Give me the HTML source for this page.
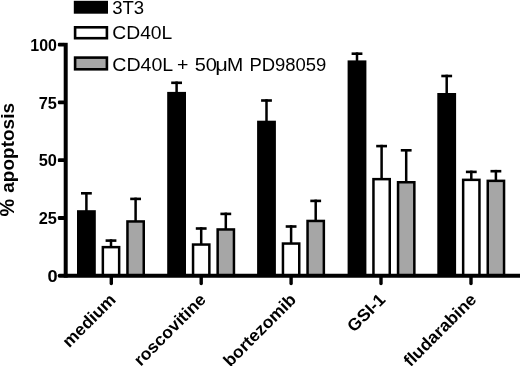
<!DOCTYPE html>
<html><head><meta charset="utf-8"><title>apoptosis chart</title>
<style>
html,body{margin:0;padding:0;background:#fff;}
body{width:520px;height:366px;overflow:hidden;}
svg{display:block;}
text{font-family:"Liberation Sans",Arial,Helvetica,sans-serif;fill:#000;}
.b{font-weight:bold;}
</style></head><body>
<svg width="520" height="366" viewBox="0 0 520 366">
<rect width="520" height="366" fill="#fff"/>

<rect x="73.8" y="0.8" width="34.2" height="12.9" fill="#000"/>
<rect x="75.1" y="27.3" width="31.8" height="10.9" fill="#fff" stroke="#000" stroke-width="2.6"/>
<rect x="75.1" y="57.6" width="31.8" height="11.7" fill="#a6a6a6" stroke="#000" stroke-width="2.6"/>
<text x="112.2" y="14.1" font-size="18" textLength="32" lengthAdjust="spacingAndGlyphs">3T3</text>
<text x="112.3" y="39.1" font-size="18" textLength="60" lengthAdjust="spacingAndGlyphs">CD40L</text>
<text y="70.7" font-size="18"><tspan x="112.3" textLength="60.2" lengthAdjust="spacingAndGlyphs">CD40L</tspan> <tspan x="176.9" textLength="11.4" lengthAdjust="spacingAndGlyphs">+</tspan> <tspan x="194.7" textLength="22.2" lengthAdjust="spacingAndGlyphs">50</tspan><tspan x="215.2" textLength="12.6" lengthAdjust="spacingAndGlyphs">μ</tspan><tspan x="227" textLength="16.2" lengthAdjust="spacingAndGlyphs">M</tspan> <tspan x="249.4" textLength="77" lengthAdjust="spacingAndGlyphs">PD98059</tspan></text>
<rect x="85.15" y="192.00" width="2.5" height="20.20" fill="#000"/>
<rect x="81.00" y="192.00" width="10.8" height="2.6" fill="#000"/>
<rect x="77.00" y="210.20" width="18.8" height="65.60" fill="#000"/>
<rect x="109.75" y="239.30" width="2.5" height="8.60" fill="#000"/>
<rect x="105.60" y="239.30" width="10.8" height="2.6" fill="#000"/>
<rect x="102.85" y="247.15" width="16.30" height="28.65" fill="#fff" stroke="#000" stroke-width="2.5"/>
<rect x="134.35" y="197.60" width="2.5" height="24.60" fill="#000"/>
<rect x="130.20" y="197.60" width="10.8" height="2.6" fill="#000"/>
<rect x="127.45" y="221.45" width="16.30" height="54.35" fill="#a6a6a6" stroke="#000" stroke-width="2.5"/>
<rect x="175.35" y="81.50" width="2.5" height="12.40" fill="#000"/>
<rect x="171.20" y="81.50" width="10.8" height="2.6" fill="#000"/>
<rect x="167.20" y="91.90" width="18.8" height="183.90" fill="#000"/>
<rect x="199.95" y="227.20" width="2.5" height="18.10" fill="#000"/>
<rect x="195.80" y="227.20" width="10.8" height="2.6" fill="#000"/>
<rect x="193.05" y="244.55" width="16.30" height="31.25" fill="#fff" stroke="#000" stroke-width="2.5"/>
<rect x="224.55" y="212.60" width="2.5" height="17.60" fill="#000"/>
<rect x="220.40" y="212.60" width="10.8" height="2.6" fill="#000"/>
<rect x="217.65" y="229.45" width="16.30" height="46.35" fill="#a6a6a6" stroke="#000" stroke-width="2.5"/>
<rect x="265.25" y="99.20" width="2.5" height="23.50" fill="#000"/>
<rect x="261.10" y="99.20" width="10.8" height="2.6" fill="#000"/>
<rect x="257.10" y="120.70" width="18.8" height="155.10" fill="#000"/>
<rect x="289.85" y="225.20" width="2.5" height="19.10" fill="#000"/>
<rect x="285.70" y="225.20" width="10.8" height="2.6" fill="#000"/>
<rect x="282.95" y="243.55" width="16.30" height="32.25" fill="#fff" stroke="#000" stroke-width="2.5"/>
<rect x="314.45" y="199.60" width="2.5" height="22.10" fill="#000"/>
<rect x="310.30" y="199.60" width="10.8" height="2.6" fill="#000"/>
<rect x="307.55" y="220.95" width="16.30" height="54.85" fill="#a6a6a6" stroke="#000" stroke-width="2.5"/>
<rect x="355.75" y="52.40" width="2.5" height="10.00" fill="#000"/>
<rect x="351.60" y="52.40" width="10.8" height="2.6" fill="#000"/>
<rect x="347.60" y="60.40" width="18.8" height="215.40" fill="#000"/>
<rect x="380.35" y="144.80" width="2.5" height="35.10" fill="#000"/>
<rect x="376.20" y="144.80" width="10.8" height="2.6" fill="#000"/>
<rect x="373.45" y="179.15" width="16.30" height="96.65" fill="#fff" stroke="#000" stroke-width="2.5"/>
<rect x="404.95" y="149.00" width="2.5" height="34.00" fill="#000"/>
<rect x="400.80" y="149.00" width="10.8" height="2.6" fill="#000"/>
<rect x="398.05" y="182.25" width="16.30" height="93.55" fill="#a6a6a6" stroke="#000" stroke-width="2.5"/>
<rect x="445.45" y="74.70" width="2.5" height="20.30" fill="#000"/>
<rect x="441.30" y="74.70" width="10.8" height="2.6" fill="#000"/>
<rect x="437.30" y="93.00" width="18.8" height="182.80" fill="#000"/>
<rect x="470.05" y="170.60" width="2.5" height="10.00" fill="#000"/>
<rect x="465.90" y="170.60" width="10.8" height="2.6" fill="#000"/>
<rect x="463.15" y="179.85" width="16.30" height="95.95" fill="#fff" stroke="#000" stroke-width="2.5"/>
<rect x="494.65" y="169.90" width="2.5" height="11.70" fill="#000"/>
<rect x="490.50" y="169.90" width="10.8" height="2.6" fill="#000"/>
<rect x="487.75" y="180.85" width="16.30" height="94.95" fill="#a6a6a6" stroke="#000" stroke-width="2.5"/>
<rect x="63.7" y="42.8" width="4" height="234.80" fill="#000"/>
<line x1="59.6" y1="275.80" x2="521" y2="275.80" stroke="#000" stroke-width="3.9" stroke-linecap="round"/>
<rect x="57.9" y="216.10" width="7" height="3.8" rx="1.2" fill="#000"/>
<rect x="57.9" y="158.30" width="7" height="3.8" rx="1.2" fill="#000"/>
<rect x="57.9" y="100.50" width="7" height="3.8" rx="1.2" fill="#000"/>
<rect x="57.9" y="42.70" width="7" height="3.8" rx="1.2" fill="#000"/>
<text class="b" x="47.60" y="282.00" font-size="16.6" textLength="10.1" lengthAdjust="spacingAndGlyphs">0</text>
<text class="b" x="38.70" y="224.20" font-size="16.6" textLength="18.2" lengthAdjust="spacingAndGlyphs">25</text>
<text class="b" x="38.70" y="166.40" font-size="16.6" textLength="18.2" lengthAdjust="spacingAndGlyphs">50</text>
<text class="b" x="38.70" y="108.60" font-size="16.6" textLength="18.2" lengthAdjust="spacingAndGlyphs">75</text>
<text class="b" x="30.30" y="50.50" font-size="16.6" textLength="26.6" lengthAdjust="spacingAndGlyphs">100</text>
<line x1="111.30" y1="275.80" x2="111.30" y2="283.5" stroke="#000" stroke-width="3.4" stroke-linecap="round"/>
<line x1="201.20" y1="275.80" x2="201.20" y2="283.5" stroke="#000" stroke-width="3.4" stroke-linecap="round"/>
<line x1="291.10" y1="275.80" x2="291.10" y2="283.5" stroke="#000" stroke-width="3.4" stroke-linecap="round"/>
<line x1="381.00" y1="275.80" x2="381.00" y2="283.5" stroke="#000" stroke-width="3.4" stroke-linecap="round"/>
<line x1="471.00" y1="275.80" x2="471.00" y2="283.5" stroke="#000" stroke-width="3.4" stroke-linecap="round"/>
<text class="b" transform="translate(116.80,300.60) rotate(-45)" x="-67.29" font-size="17" textLength="67.29" lengthAdjust="spacingAndGlyphs">medium</text>
<text class="b" transform="translate(206.90,300.60) rotate(-45)" x="-93.63" font-size="17" textLength="93.63" lengthAdjust="spacingAndGlyphs">roscovitine</text>
<text class="b" transform="translate(297.10,300.60) rotate(-45)" x="-94.58" font-size="17" textLength="94.58" lengthAdjust="spacingAndGlyphs">bortezomib</text>
<text class="b" transform="translate(386.40,300.60) rotate(-45)" x="-45.84" font-size="17" textLength="45.84" lengthAdjust="spacingAndGlyphs">GSI-1</text>
<text class="b" transform="translate(477.40,300.60) rotate(-45)" x="-94.59" font-size="17" textLength="94.59" lengthAdjust="spacingAndGlyphs">fludarabine</text>
<text class="b" transform="translate(14,192.7) rotate(-90)" font-size="19" textLength="89.7" lengthAdjust="spacingAndGlyphs">apoptosis</text>
<text class="b" transform="translate(14,216.5) rotate(-90)" font-size="19.4" textLength="17.6" lengthAdjust="spacingAndGlyphs">%</text>
</svg></body></html>
